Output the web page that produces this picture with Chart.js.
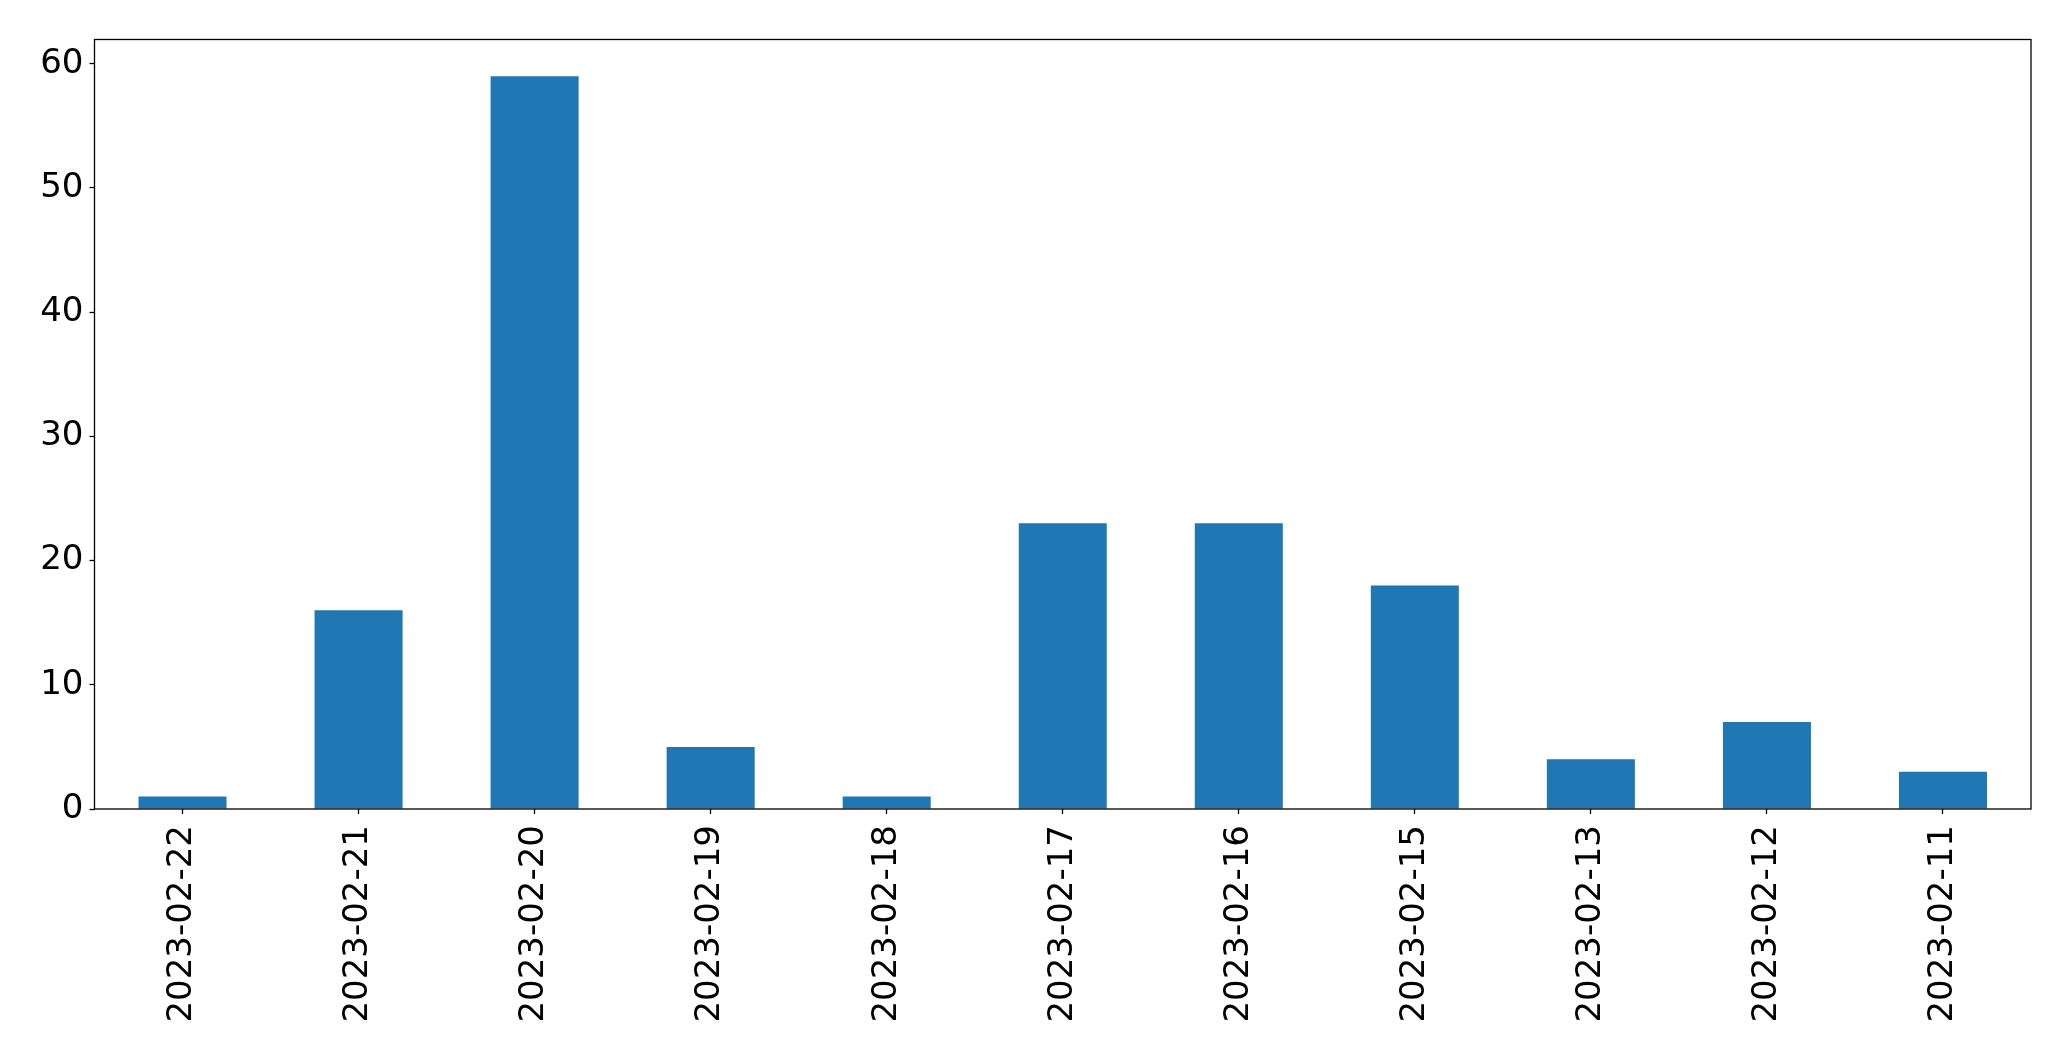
<!DOCTYPE html>
<html>
<head>
<meta charset="utf-8">
<title>Daily counts</title>
<script src="https://cdn.jsdelivr.net/npm/chart.js@4"></script>
<style>
  html, body { margin: 0; padding: 0; background: #fff; }
  canvas { display: block; }
</style>
</head>
<body>
<canvas id="chart" width="2071" height="1061"></canvas>
<script>
// data
const dates = ['2023-02-22', '2023-02-21', '2023-02-20', '2023-02-19', '2023-02-18', '2023-02-17',
  '2023-02-16', '2023-02-15', '2023-02-13', '2023-02-12', '2023-02-11'];
const counts = [1, 16, 59, 5, 1, 23, 23, 18, 4, 7, 3];
const yTicks = [0, 10, 20, 30, 40, 50, 60];

const FONT = { family: 'DejaVu Sans', size: 34 };

// full box around the plot area, like a matplotlib frame
const frame = {
  id: 'frame',
  afterDraw(chart) {
    const { ctx, chartArea: a } = chart;
    ctx.save();
    ctx.strokeStyle = '#000';
    ctx.lineWidth = 1.3;
    ctx.strokeRect(a.left, a.top, a.right - a.left, a.bottom - a.top);
    ctx.restore();
  }
};

new Chart(document.getElementById('chart'), {
  type: 'bar',
  data: {
    labels: dates,
    datasets: [{
      data: counts,
      backgroundColor: '#1f77b4',
      borderWidth: 0,
      barPercentage: 0.5,
      categoryPercentage: 1.0
    }]
  },
  options: {
    responsive: false,
    devicePixelRatio: 1,
    animation: false,
    layout: { padding: { top: 39.5, right: 40, left: 0, bottom: 0 } },
    plugins: { legend: { display: false }, tooltip: { enabled: false } },
    scales: {
      x: {
        offset: true,
        grid: { display: true, offset: false, drawOnChartArea: false, drawTicks: true, tickLength: 5, tickColor: '#000', tickWidth: 1.3 },
        border: { display: false },
        ticks: { color: '#000', font: FONT, minRotation: 90, maxRotation: 90, padding: 11, autoSkip: false },
        afterFit(scale) { scale.height = 252; }
      },
      y: {
        min: 0,
        max: 61.95,
        grid: { display: true, drawOnChartArea: false, drawTicks: true, tickLength: 5, tickColor: '#000', tickWidth: 1.3 },
        border: { display: false },
        ticks: { color: '#000', font: FONT, stepSize: 10, includeBounds: false, padding: 6,
          callback: v => yTicks.includes(v) ? v : null },
        afterFit(scale) { scale.width = 94.5; }
      }
    }
  },
  plugins: [frame]
});
</script>
</body>
</html>
